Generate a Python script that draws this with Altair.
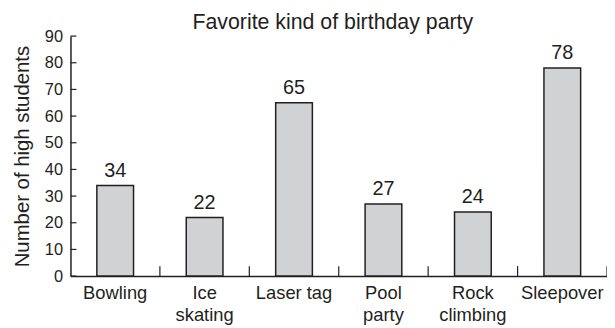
import altair as alt
import pandas as pd

categories = ["Bowling", "Ice skating", "Laser tag", "Pool party", "Rock climbing", "Sleepover"]
values = [34, 22, 65, 27, 24, 78]
y_ticks = [0, 10, 20, 30, 40, 50, 60, 70, 80, 90]

FONT = "Liberation Sans"
INK = "#231f20"

df = pd.DataFrame({"cat": categories, "value": values})
ticks_df = pd.DataFrame({"value": y_ticks})

W, H = 541, 242

x_axis = alt.Axis(
    title=None,
    ticks=False,
    labelAngle=0,
    labelFont=FONT,
    labelFontSize=18.5,
    labelColor=INK,
    labelPadding=8,
    labelLineHeight=22,
    labelBaseline="top",
    labelOverlap=False,
    labelExpr="indexof(['Ice skating','Pool party','Rock climbing'], datum.label) >= 0 ? split(datum.label, ' ') : datum.label",
    domainColor=INK,
    domainWidth=1.5,
)
y_axis = alt.Axis(
    title="Number of high students",
    values=y_ticks,
    tickCount=10,
    ticks=False,
    grid=False,
    labelOverlap=False,
    labelFont=FONT,
    labelFontSize=16.5,
    labelColor=INK,
    labelPadding=8,
    titleFont=FONT,
    titleFontSize=20.5,
    titleFontWeight="normal",
    titleColor=INK,
    titlePadding=12,
    domainColor=INK,
    domainWidth=1.5,
)
x_scale = alt.Scale(paddingInner=0, paddingOuter=0)
y_scale = alt.Scale(domain=[0, 90], nice=False)


def xe(**kw):
    return alt.X("cat:N", sort=categories, scale=x_scale, axis=x_axis, **kw)


def ye():
    return alt.Y("value:Q", scale=y_scale, axis=y_axis)


bars = alt.Chart(df).mark_bar(
    width=37, color="#d1d2d4", stroke=INK, strokeWidth=1.5
).encode(x=xe(), y=ye())

labels = alt.Chart(df).mark_text(
    baseline="alphabetic", dy=-9, font=FONT, fontSize=20, color=INK
).encode(x=xe(), y=ye(), text=alt.Text("value:Q"))

xticks = alt.Chart(df).mark_rule(color=INK, strokeWidth=1.2).encode(
    x=xe(bandPosition=1),
    y=alt.value(H),
    y2=alt.value(H - 10),
)

yticks = alt.Chart(ticks_df).mark_rule(color=INK, strokeWidth=1.2).encode(
    y=ye(),
    x=alt.value(0),
    x2=alt.value(6),
)

chart = (
    alt.layer(bars, labels, xticks, yticks)
    .properties(
        width=W,
        height=H,
        title=alt.TitleParams(
            "Favorite kind of birthday party",
            font=FONT,
            fontSize=21.5,
            fontWeight="normal",
            color=INK,
            anchor="middle",
            dx=-6,
            dy=9,
            offset=4,
        ),
        autosize=alt.AutoSizeParams(type="none"),
        padding={"left": 63, "top": 27, "right": 0, "bottom": 50},
    )
    .configure_view(stroke=None)
)

chart.save("out.html", embed_options={"renderer": "svg", "actions": False})
